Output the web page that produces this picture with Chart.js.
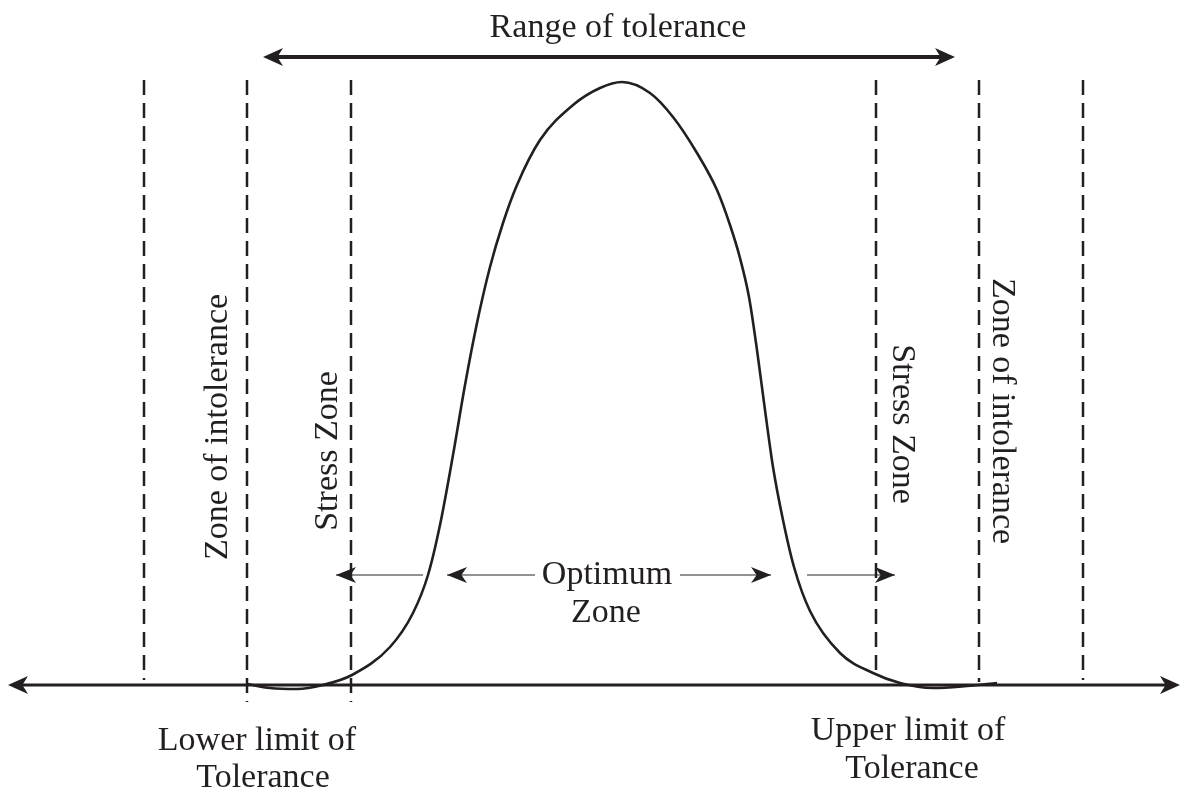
<!DOCTYPE html>
<html>
<head>
<meta charset="utf-8">
<script src="https://cdn.jsdelivr.net/npm/chart.js@4"></script>
<style>
  html, body { margin: 0; padding: 0; background: #ffffff; }
  #wrap { width: 1182px; height: 791px; }
</style>
</head>
<body>
<div id="wrap"><canvas id="c" width="1182" height="791"></canvas></div>
<script>
// ---- data (x = gradient position, h = height above the baseline axis) ----
const curveX = [247,270,297,323,352,390,413,428,440,453,465,477,490,503,517,540,573,600,622,650,673,697,717,730,740,749,757,765,773,783,794,810,840,873,900,933,967,997];
const curveH = [1,-3,-4,0,10,38,72,110,160,230,300,362,418,462,500,545,580,597,603,592,568,532,495,460,427,388,335,275,218,165,118,74,32,12,2,-3,-1,2];

const boundaryX      = [144, 247, 351, 876, 979, 1083];
const boundaryTop    = [605, 605, 605, 605, 605, 605];
const boundaryBottom = [5, -17, -17, 7, 3, 5];

const axisEnds       = [8, 1180];         // environmental gradient axis
const rangeEnds      = [263, 955];        // range of tolerance
const rangeH         = 628;
const optimumH       = 110;
// [from, to] for the four small arrows
const optimumArrows  = [[423, 336], [535, 447], [680, 771], [807, 895]];

const labels = [
  { text: 'Range of tolerance', x: 618, h: 648, rot: 0 },
  { text: 'Optimum',            x: 607, h: 101, rot: 0 },
  { text: 'Zone',               x: 606, h: 63,  rot: 0 },
  { text: 'Lower limit of',     x: 257, h: -65, rot: 0 },
  { text: 'Tolerance',          x: 263, h: -102, rot: 0 },
  { text: 'Upper limit of',     x: 908, h: -55, rot: 0 },
  { text: 'Tolerance',          x: 912, h: -93, rot: 0 },
  { text: 'Zone of intolerance', x: 227, h: 258, rot: -1 },
  { text: 'Stress Zone',         x: 337, h: 234, rot: -1 },
  { text: 'Stress Zone',         x: 893, h: 261, rot: 1 },
  { text: 'Zone of intolerance', x: 993, h: 274, rot: 1 }
];

const INK = '#231f20';

const datasets = [];
datasets.push({
  data: curveX.map((x, i) => ({ x: x, y: curveH[i] })),
  showLine: true, pointRadius: 0, borderColor: INK, borderWidth: 2.6,
  cubicInterpolationMode: 'monotone', fill: false
});
boundaryX.forEach((x, i) => {
  datasets.push({
    data: [{ x: x, y: boundaryTop[i] }, { x: x, y: boundaryBottom[i] }],
    showLine: true, pointRadius: 0, borderColor: INK, borderWidth: 2.5,
    borderDash: [15, 8], borderCapStyle: 'butt'
  });
});
datasets.push({
  data: [{ x: axisEnds[0] + 12, y: 0 }, { x: axisEnds[1] - 12, y: 0 }],
  showLine: true, pointRadius: 0, borderColor: INK, borderWidth: 3
});
datasets.push({
  data: [{ x: rangeEnds[0] + 12, y: rangeH }, { x: rangeEnds[1] - 12, y: rangeH }],
  showLine: true, pointRadius: 0, borderColor: INK, borderWidth: 4
});
optimumArrows.forEach(a => {
  datasets.push({
    data: [{ x: a[0], y: optimumH }, { x: a[1], y: optimumH }],
    showLine: true, pointRadius: 0, borderColor: '#6d6e70', borderWidth: 1.5
  });
});

function head(ctx, tipX, tipY, dir, len, half) {
  ctx.beginPath();
  ctx.moveTo(tipX, tipY);
  ctx.lineTo(tipX - dir * len, tipY - half);
  ctx.lineTo(tipX - dir * len * 0.72, tipY);
  ctx.lineTo(tipX - dir * len, tipY + half);
  ctx.closePath();
  ctx.fill();
}

const decor = {
  id: 'decor',
  afterDatasetsDraw(chart) {
    const ctx = chart.ctx;
    const xs = chart.scales.x, ys = chart.scales.y;
    ctx.save();
    ctx.fillStyle = INK;
    const y0 = ys.getPixelForValue(0);
    head(ctx, xs.getPixelForValue(axisEnds[0]), y0, -1, 20, 9);
    head(ctx, xs.getPixelForValue(axisEnds[1]), y0, 1, 20, 9);
    const yr = ys.getPixelForValue(rangeH);
    head(ctx, xs.getPixelForValue(rangeEnds[0]), yr, -1, 20, 9);
    head(ctx, xs.getPixelForValue(rangeEnds[1]), yr, 1, 20, 9);
    const yo = ys.getPixelForValue(optimumH);
    optimumArrows.forEach(a => {
      const dir = a[1] > a[0] ? 1 : -1;
      head(ctx, xs.getPixelForValue(a[1]), yo, dir, 20, 8);
    });
    ctx.font = '34px "Liberation Serif", "Times New Roman", serif';
    ctx.textAlign = 'center';
    ctx.textBaseline = 'alphabetic';
    labels.forEach(l => {
      ctx.save();
      ctx.translate(xs.getPixelForValue(l.x), ys.getPixelForValue(l.h));
      if (l.rot) ctx.rotate(l.rot * Math.PI / 2);
      ctx.fillText(l.text, 0, 0);
      ctx.restore();
    });
    ctx.restore();
  }
};

new Chart(document.getElementById('c'), {
  type: 'scatter',
  data: { datasets: datasets },
  options: {
    responsive: false,
    animation: false,
    devicePixelRatio: 1,
    layout: { padding: 0 },
    plugins: { legend: { display: false }, tooltip: { enabled: false } },
    scales: {
      x: { type: 'linear', min: 0, max: 1182, display: false },
      y: { type: 'linear', min: -106, max: 685, display: false }
    }
  },
  plugins: [decor]
});
</script>
</body>
</html>
